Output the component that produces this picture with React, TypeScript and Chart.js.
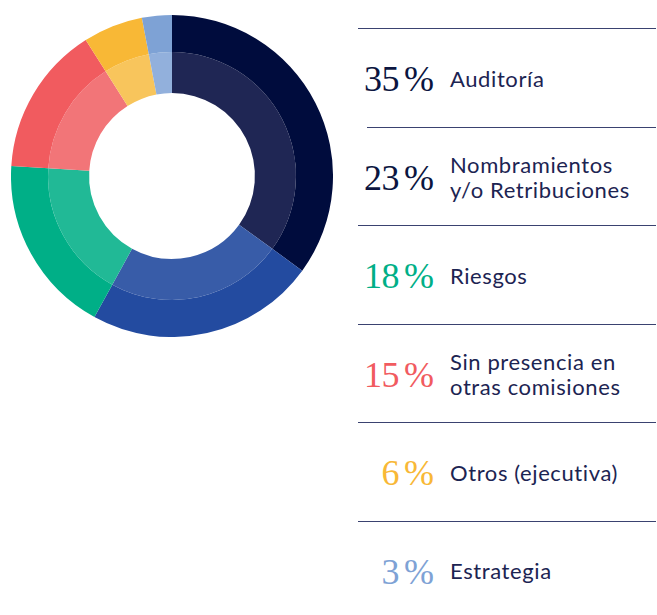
import React, { useEffect, useRef } from "react";
import { Chart, registerables } from "chart.js";

Chart.register(...registerables);

const categories = [
  "Auditoría",
  "Nombramientos y/o Retribuciones",
  "Riesgos",
  "Sin presencia en otras comisiones",
  "Otros (ejecutiva)",
  "Estrategia",
];
const labelLines = [
  ["Auditoría"],
  ["Nombramientos", "y/o Retribuciones"],
  ["Riesgos"],
  ["Sin presencia en", "otras comisiones"],
  ["Otros (ejecutiva)"],
  ["Estrategia"],
];
const values = [35, 23, 18, 15, 6, 3];
const outerColors = ["#000c3d", "#234ba0", "#00af87", "#f15b5f", "#f8b836", "#7ea2d5"];
const innerColors = ["#1f2654", "#385ca8", "#21b996", "#f27578", "#f8c55c", "#92b0dc"];
const percentColors = ["#0b1540", "#0b1540", "#00af87", "#f15b5f", "#f8b836", "#7ea2d5"];

export default function App() {
  const canvasRef = useRef<HTMLCanvasElement | null>(null);

  useEffect(() => {
    const canvas = canvasRef.current;
    if (!canvas) return;
    const chart = new Chart(canvas, {
      type: "doughnut",
      data: {
        labels: categories,
        datasets: [
          { data: values, backgroundColor: outerColors, borderWidth: 0, weight: 37 },
          { data: values, backgroundColor: innerColors, borderWidth: 0, weight: 41 },
        ],
      },
      options: {
        animation: false,
        responsive: false,
        maintainAspectRatio: false,
        cutout: "51.5%",
        layout: { padding: 0 },
        plugins: { legend: { display: false }, tooltip: { enabled: false } },
      },
    });
    return () => chart.destroy();
  }, []);

  const rowTop = 28;
  const rowH = 98.5;

  return (
    <div style={{ position: "absolute", left: 0, top: 0, width: 657, height: 615, background: "#fff" }}>
      <canvas
        ref={canvasRef}
        width={322}
        height={322}
        style={{ position: "absolute", left: 11, top: 15, width: 322, height: 322 }}
      />
      {categories.map((c, i) => {
        const lineLeft = i === 1 ? 367 : 358;
        return (
          <div
            key={c}
            style={{
              position: "absolute",
              left: lineLeft,
              right: 1,
              top: rowTop + rowH * i,
              height: rowH,
              borderTop: "1px solid #3a4270",
            }}
          >
            <div
              style={{
                position: "absolute",
                right: 656 - 434,
                top: 1,
                height: rowH,
                display: "flex",
                alignItems: "center",
                fontFamily: "'Liberation Serif', serif",
                fontSize: 36,
                letterSpacing: -0.5,
                color: percentColors[i],
                whiteSpace: "nowrap",
                lineHeight: 1,
              }}
            >
              {values[i]}
              <span style={{ marginLeft: 5, letterSpacing: 0 }}>%</span>
            </div>
            <div
              style={{
                position: "absolute",
                left: 450 - lineLeft,
                top: 0,
                height: rowH,
                display: "flex",
                flexDirection: "column",
                justifyContent: "center",
                fontFamily: "Lato, sans-serif",
                fontSize: 22,
                letterSpacing: 0.6,
                lineHeight: "25px",
                color: "#1c2452",
                whiteSpace: "nowrap",
              }}
            >
              {labelLines[i].map((l) => (
                <div key={l}>{l}</div>
              ))}
            </div>
          </div>
        );
      })}
    </div>
  );
}
